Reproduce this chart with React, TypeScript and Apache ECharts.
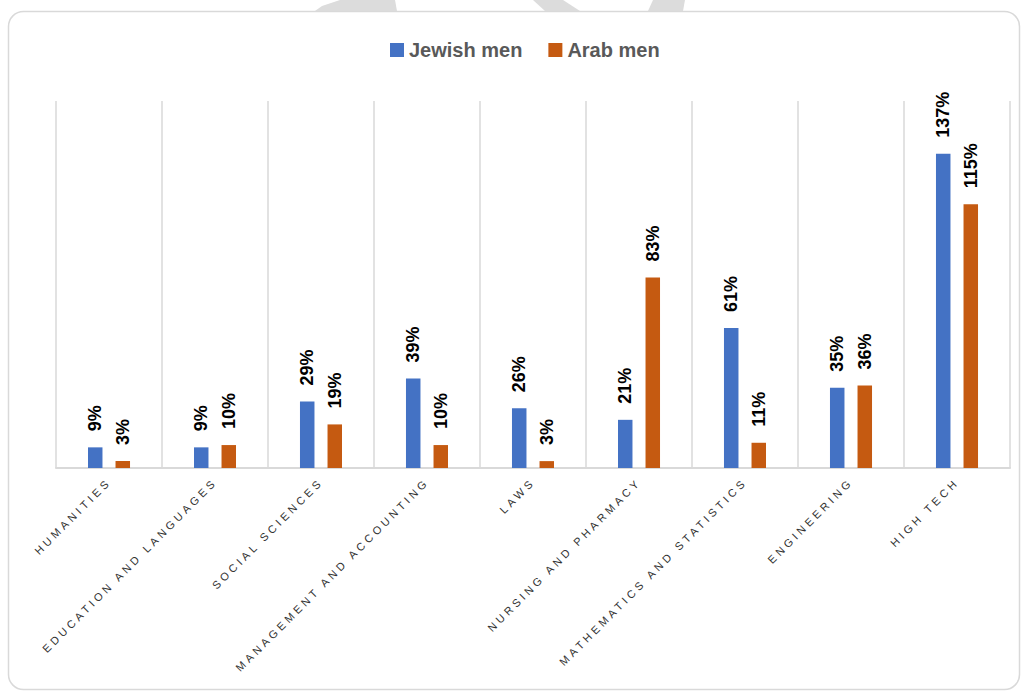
import React, { useEffect, useRef } from "react";
import * as echarts from "echarts";

const categories = [
  "HUMANITIES",
  "EDUCATION AND LANGUAGES",
  "SOCIAL SCIENCES",
  "MANAGEMENT AND ACCOUNTING",
  "LAWS",
  "NURSING AND PHARMACY",
  "MATHEMATICS AND STATISTICS",
  "ENGINEERING",
  "HIGH TECH",
];
const jewishMen = [9, 9, 29, 39, 26, 21, 61, 35, 137];
const arabMen = [3, 10, 19, 10, 3, 83, 11, 36, 115];
const seriesNames = ["Jewish men", "Arab men"];
const colors = ["#4472C4", "#C55A11"];

export default function App() {
  const ref = useRef<HTMLDivElement>(null);
  useEffect(() => {
    if (!ref.current) return;
    const chart = echarts.init(ref.current, null, { renderer: "svg" });
    const labelCfg = {
      show: true,
      position: "top",
      rotate: 90,
      align: "left",
      verticalAlign: "middle",
      distance: 16,
      formatter: "{c}%",
      color: "#000",
      fontWeight: "bold",
      fontSize: 18,
      fontFamily: "Liberation Sans",
    };
    chart.setOption({
      animation: false,
      backgroundColor: "#ffffff",
      textStyle: { fontFamily: "Liberation Sans" },
      graphic: [
        { type: "polygon", z: -10, shape: { points: [[340, 0], [395, 0], [397, 11], [315, 11], [322, 6]] }, style: { fill: "#dcdcdc" } },
        { type: "polygon", z: -10, shape: { points: [[533, 0], [563, 0], [580, 11], [545, 11]] }, style: { fill: "#dcdcdc" } },
        { type: "polygon", z: -10, shape: { points: [[653, 0], [685, 0], [683, 11], [648, 11]] }, style: { fill: "#dcdcdc" } },
        {
          type: "rect",
          z: -5,
          shape: { x: 8.5, y: 11.5, width: 1011, height: 678, r: 15 },
          style: { fill: "#ffffff", stroke: "#d9d9d9", lineWidth: 1.5 },
        },
      ],
      legend: {
        data: seriesNames,
        left: 385,
        top: 35,
        itemWidth: 14,
        itemHeight: 14,
        itemGap: 26,
        icon: "rect",
        textStyle: { color: "#595959", fontSize: 20, fontWeight: "bold", fontFamily: "Liberation Sans" },
      },
      grid: { left: 56, right: 12, top: 101, bottom: 223, containLabel: false },
      xAxis: {
        type: "category",
        data: categories,
        axisLine: { show: true, lineStyle: { color: "#d9d9d9", width: 2 } },
        axisTick: { show: false },
        splitLine: { show: true, lineStyle: { color: "#d9d9d9", width: 1.5 } },
        axisLabel: {
          rotate: 45,
          interval: 0,
          margin: 12,
          color: "#333333",
          fontSize: 11,
          fontFamily: "Liberation Sans",
        },
      },
      yAxis: { type: "value", min: 0, max: 160, show: false, splitLine: { show: false } },
      series: [
        {
          name: seriesNames[0],
          type: "bar",
          data: jewishMen,
          barWidth: 14.5,
          barGap: "90%",
          itemStyle: { color: colors[0] },
          label: labelCfg,
        },
        {
          name: seriesNames[1],
          type: "bar",
          data: arabMen,
          barWidth: 14.5,
          barGap: "90%",
          itemStyle: { color: colors[1] },
          label: labelCfg,
        },
      ],
    });
    const applySpacing = () => {
      if (!ref.current) return;
      const texts = ref.current.querySelectorAll("text");
      texts.forEach((t) => {
        if (categories.includes((t.textContent || "").trim())) {
          t.setAttribute("letter-spacing", "3.5");
        }
      });
    };
    applySpacing();
    chart.on("finished", applySpacing);
    const tm = setTimeout(applySpacing, 50);
    return () => {
      clearTimeout(tm);
      chart.dispose();
    };
  }, []);
  return (
    <div
      ref={ref}
      style={{ position: "fixed", left: 0, top: 0, width: 1022, height: 691 }}
    />
  );
}
